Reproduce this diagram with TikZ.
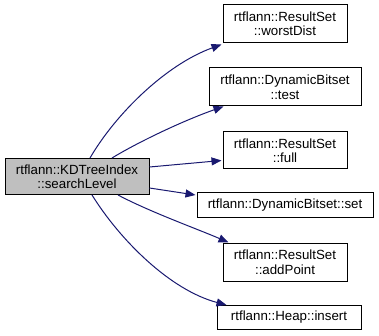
\documentclass[tikz,border=0pt]{standalone}
\usepackage{fontspec}
\setmainfont{Liberation Sans}
\usetikzlibrary{arrows.meta}
\definecolor{edgeblue}{HTML}{191970}
\definecolor{nodegray}{HTML}{BFBFBF}
\tikzset{
  fnode/.style={draw=black, line width=1pt, fill=white, inner sep=0pt,
    align=center, font=\fontsize{13.3}{14.5}\selectfont},
  current/.style={fnode, fill=nodegray},
  call/.style={draw=edgeblue, line width=1pt,
    -{Triangle[length=10pt,width=8pt]}, fill=none},
}
\begin{document}
\begin{tikzpicture}[x=1pt,y=-1pt]
\useasboundingbox (0,0) rectangle (379,336);
% caller
\node[current, minimum width=144pt, minimum height=36pt] (main) at (77,176.5)
  {rtflann::KDTreeIndex\\::searchLevel};
% callees
\node[fnode, minimum width=124pt, minimum height=38pt] (worst) at (285,24)
  {rtflann::ResultSet\\::worstDist};
\node[fnode, minimum width=152pt, minimum height=38pt] (test) at (285,87)
  {rtflann::DynamicBitset\\::test};
\node[fnode, minimum width=124pt, minimum height=37pt] (full) at (285,150.5)
  {rtflann::ResultSet\\::full};
\node[fnode, minimum width=176pt, minimum height=24pt] (set) at (285,205)
  {rtflann::DynamicBitset::set};
\node[fnode, minimum width=124pt, minimum height=38pt] (addp) at (285,262)
  {rtflann::ResultSet\\::addPoint};
\node[fnode, minimum width=144pt, minimum height=24pt] (heap) at (289,317.5)
  {rtflann::Heap::insert};
% calls
\draw[call] ([xshift=13pt]main.north) .. controls (115,115) and (165,65) .. ([shift={(-1pt,-1pt)}]worst.south west);
\draw[call] ([xshift=35pt]main.north) .. controls (140,141) and (185,120) .. ([xshift=15pt]test.south west);
\draw[call] ([yshift=9.5pt]main.east) -- ([shift={(-1pt,-10pt)}]full.west);
\draw[call] ([yshift=-11.5pt]main.east) -- ([shift={(-1pt,10pt)}]set.west);
\draw[call] ([xshift=41pt]main.south) .. controls (150,212) and (200,230) .. ([xshift=6pt]addp.north west);
\draw[call] ([xshift=15pt]main.south) .. controls (120,240) and (170,290) .. ([xshift=10pt]heap.north west);
\end{tikzpicture}
\end{document}
